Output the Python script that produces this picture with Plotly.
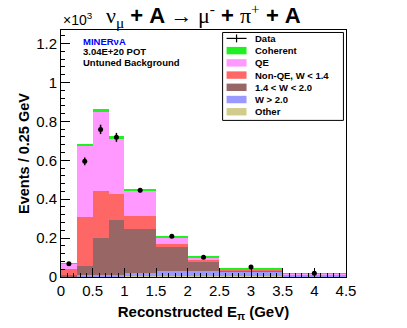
import plotly.graph_objects as go

# bin edges in GeV
edges = [0.0, 0.25, 0.5, 0.75, 1.0, 1.5, 2.0, 2.5, 3.5, 4.5]

# stacked MC components (events / 0.25 GeV), bottom to top
other = [2, 2, 3, 3, 3, 3, 3, 3, 2]
w_gt_20 = [3, 6, 7, 9, 17, 26, 26, 23, 10]
w_14_20 = [7, 50, 188, 280, 225, 123, 52, 8, 2]
non_qe = [28, 251, 243, 137, 71, 18, 10, 5, 1]
qe = [27, 368, 412, 280, 127, 33, 7, 2, 1]
coherent = [5, 7, 9, 14, 10, 7, 6, 5, 2]

# data points and errors
data = [68, 595, 759, 718, 446, 210, 102, 52, 19]
data_err = [6, 20, 24, 23, 12, 8, 5, 4, 3]

centers = [(a + b) / 2 for a, b in zip(edges[:-1], edges[1:])]
widths = [b - a for a, b in zip(edges[:-1], edges[1:])]

stack = [
    ('Other', other, '#d2cc8c'),
    ('W > 2.0', w_gt_20, '#9999ff'),
    ('1.4 < W < 2.0', w_14_20, '#996666'),
    ('Non-QE, W < 1.4', non_qe, '#ff6666'),
    ('QE', qe, '#ff99ff'),
    ('Coherent', coherent, '#1ff01f'),
]

FONT = 'Liberation Sans, Arial, sans-serif'
SERIF = 'Liberation Serif, DejaVu Serif, serif'

fig = go.Figure()
for name, vals, color in stack:
    fig.add_trace(go.Bar(
        x=centers, y=[v / 1000 for v in vals], width=widths,
        marker=dict(color=color, line=dict(width=0)),
        name=name, showlegend=False
    ))

fig.add_trace(go.Scatter(
    x=centers, y=[v / 1000 for v in data], mode='markers',
    marker=dict(color='black', size=5),
    error_y=dict(type='data', array=[e / 1000 for e in data_err],
                 color='black', thickness=1.5, width=0),
    name='Data', showlegend=False
))

fig.update_layout(
    width=407, height=328,
    margin=dict(l=61, r=60.5, t=29.5, b=51),
    paper_bgcolor='white', plot_bgcolor='white',
    barmode='stack', bargap=0,
    font=dict(family=FONT, color='black'),
    xaxis=dict(
        range=[0, 4.5], dtick=0.5, tick0=0,
        ticks='inside', ticklen=9, tickwidth=1, tickcolor='black',
        minor=dict(ticks='inside', ticklen=4, dtick=0.1, tickcolor='black'),
        showline=True, linecolor='black', linewidth=1, mirror=True,
        showgrid=False, zeroline=False, automargin=False,
        tickfont=dict(size=15),
        title=dict(text='<b>Reconstructed E<sub>π</sub> (GeV)</b>',
                   font=dict(size=15), standoff=8),
    ),
    yaxis=dict(
        range=[0, 1.27], dtick=0.2, tick0=0,
        ticks='inside', ticklen=9, tickwidth=1, tickcolor='black',
        minor=dict(ticks='inside', ticklen=4, dtick=0.04, tickcolor='black'),
        showline=True, linecolor='black', linewidth=1, mirror=True,
        showgrid=False, zeroline=False, automargin=False,
        tickfont=dict(size=15),
        title=dict(text='<b>Events / 0.25 GeV</b>', font=dict(size=14.5), standoff=3),
    ),
)

# title
sp = '<span style="font-family:%s">' % SERIF
title = (sp + 'ν<sub>μ</sub></span><b> + A </b>' + sp + '→ μ<sup>-</sup></span>'
         '<b> + </b>' + sp + 'π<sup>+</sup></span><b> + A</b>')
fig.add_annotation(text=title, xref='paper', yref='paper', x=0.5, y=1.0,
                   yshift=15, xanchor='center', yanchor='middle',
                   showarrow=False, font=dict(size=22))
fig.add_annotation(text='×10<sup>3</sup>', xref='paper', yref='paper', x=0, y=1.0,
                   xanchor='left', yanchor='bottom', yshift=0, showarrow=False,
                   font=dict(size=14))

# experiment labels
labels = [('<b>MINERνA</b>', 'blue'), ('<b>3.04E+20 POT</b>', 'black'),
          ('<b>Untuned Background</b>', 'black')]
for i, (txt, col) in enumerate(labels):
    fig.add_annotation(text=txt, xref='paper', yref='paper', x=0.07,
                       y=0.952 - i * 0.041, xanchor='left', yanchor='middle',
                       showarrow=False, font=dict(size=9.5, color=col))

# legend box
lx0, lx1, ly0, ly1 = 0.567, 0.991, 0.634, 0.99
fig.add_shape(type='rect', xref='paper', yref='paper', x0=lx0, x1=lx1, y0=ly0, y1=ly1,
              line=dict(color='black', width=1), fillcolor='white', layer='above')
row_h = 0.0495
entries = [('Data', None)] + [(n, c) for n, _, c in reversed(stack)]
for i, (name, color) in enumerate(entries):
    yc = 0.966 - i * row_h
    if color is None:
        fig.add_shape(type='line', xref='paper', yref='paper', x0=0.581, x1=0.651,
                      y0=yc, y1=yc, line=dict(color='black', width=1.2), layer='above')
        fig.add_shape(type='line', xref='paper', yref='paper', x0=0.616, x1=0.616,
                      y0=yc - 0.016, y1=yc + 0.016, line=dict(color='black', width=1.2),
                      layer='above')
    else:
        fig.add_shape(type='rect', xref='paper', yref='paper', x0=0.581, x1=0.651,
                      y0=yc - 0.015, y1=yc + 0.015, fillcolor=color,
                      line=dict(width=0), layer='above')
    fig.add_annotation(text='<b>%s</b>' % name, xref='paper', yref='paper', x=0.672,
                       y=yc, xanchor='left', yanchor='middle', showarrow=False,
                       font=dict(size=9.5))

fig.write_html('out.html', config={'displayModeBar': False},
               post_script="document.body.style.margin='0';")
